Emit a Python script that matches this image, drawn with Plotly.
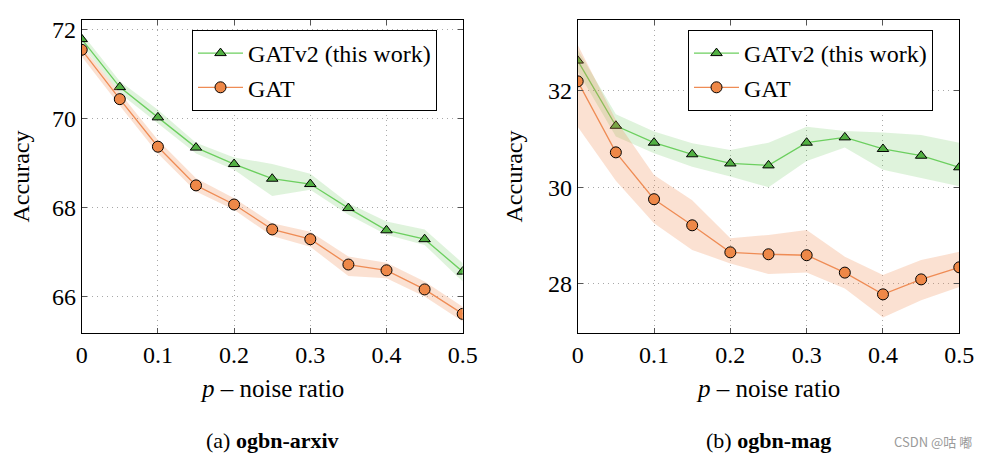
import plotly.graph_objects as go

# ---------------- data ----------------
noise = [0, 0.05, 0.1, 0.15, 0.2, 0.25, 0.3, 0.35, 0.4, 0.45, 0.5]
x_tick_vals = [0, 0.1, 0.2, 0.3, 0.4, 0.5]
x_tick_text = ["0", "0.1", "0.2", "0.3", "0.4", "0.5"]

# ogbn-arxiv
arxiv_gatv2 = [71.79, 70.71, 70.03, 69.35, 68.98, 68.65, 68.53, 67.99, 67.49, 67.29, 66.56]
arxiv_gatv2_hi = [71.92, 70.84, 70.20, 69.46, 69.13, 68.98, 68.76, 68.10, 67.69, 67.51, 66.75]
arxiv_gatv2_lo = [71.66, 70.57, 69.90, 69.22, 68.85, 68.26, 68.40, 67.84, 67.39, 67.16, 66.34]
arxiv_gat = [71.55, 70.44, 69.37, 68.50, 68.07, 67.51, 67.29, 66.72, 66.59, 66.16, 65.61]
arxiv_gat_hi = [71.64, 70.57, 69.52, 68.66, 68.21, 67.65, 67.46, 66.90, 66.76, 66.34, 65.77]
arxiv_gat_lo = [71.40, 70.29, 69.22, 68.36, 67.95, 67.36, 67.12, 66.46, 66.41, 66.00, 65.44]
arxiv_y_ticks = [66, 68, 70, 72]

# ogbn-mag
mag_gatv2 = [32.62, 31.27, 30.92, 30.68, 30.49, 30.45, 30.92, 31.03, 30.79, 30.65, 30.41]
mag_gatv2_hi = [32.85, 31.51, 31.15, 30.91, 30.77, 30.92, 31.25, 31.16, 31.13, 31.08, 30.92]
mag_gatv2_lo = [32.40, 31.05, 30.70, 30.42, 30.22, 30.00, 30.54, 30.82, 30.36, 30.19, 30.02]
mag_gat = [32.19, 30.72, 29.75, 29.21, 28.65, 28.61, 28.59, 28.23, 27.78, 28.09, 28.34]
mag_gat_hi = [32.95, 31.39, 30.25, 29.73, 28.94, 29.01, 29.11, 28.56, 28.18, 28.49, 28.66]
mag_gat_lo = [31.25, 30.13, 29.25, 28.70, 28.42, 28.20, 28.23, 27.90, 27.30, 27.66, 27.93]
mag_y_ticks = [28, 30, 32]

series_names = ["GATv2 (this work)", "GAT"]
y_title = "Accuracy"
x_title = "<i>p</i> – noise ratio"
captions = ["(a) <b>ogbn-arxiv</b>", "(b) <b>ogbn-mag</b>"]

# ---------------- style ----------------
FONT = "Liberation Serif"
GREEN_LINE = "#6ccf5f"
GREEN_MARK = "#52b043"
GREEN_BAND = "rgba(110,200,95,0.22)"
ORANGE_LINE = "#ef8c55"
ORANGE_MARK = "#ee8848"
ORANGE_BAND = "rgba(238,136,76,0.25)"

fig = go.Figure()


def add_panel(xa, ya, legend, g, g_hi, g_lo, o, o_hi, o_lo):
    fig.add_trace(go.Scatter(x=noise + noise[::-1], y=g_hi + g_lo[::-1], fill="toself",
                             fillcolor=GREEN_BAND, line=dict(width=0), mode="lines",
                             showlegend=False, hoverinfo="skip", xaxis=xa, yaxis=ya))
    fig.add_trace(go.Scatter(x=noise, y=g, mode="lines+markers", name=series_names[0],
                             line=dict(color=GREEN_LINE, width=1.3),
                             marker=dict(symbol="triangle-up", size=10, color=GREEN_MARK,
                                         line=dict(color="black", width=1)),
                             xaxis=xa, yaxis=ya, legend=legend))
    fig.add_trace(go.Scatter(x=noise + noise[::-1], y=o_hi + o_lo[::-1], fill="toself",
                             fillcolor=ORANGE_BAND, line=dict(width=0), mode="lines",
                             showlegend=False, hoverinfo="skip", xaxis=xa, yaxis=ya))
    fig.add_trace(go.Scatter(x=noise, y=o, mode="lines+markers", name=series_names[1],
                             line=dict(color=ORANGE_LINE, width=1.3),
                             marker=dict(symbol="circle", size=11, color=ORANGE_MARK,
                                         line=dict(color="black", width=1)),
                             xaxis=xa, yaxis=ya, legend=legend))


add_panel("x", "y", "legend", arxiv_gatv2, arxiv_gatv2_hi, arxiv_gatv2_lo,
          arxiv_gat, arxiv_gat_hi, arxiv_gat_lo)
add_panel("x2", "y2", "legend2", mag_gatv2, mag_gatv2_hi, mag_gatv2_lo,
          mag_gat, mag_gat_hi, mag_gat_lo)

# The page body has an 8px default margin; compensate so the figure fills the window.
OFF = 8
W, H = 991 - OFF, 459 - OFF


def px(rx):
    return (rx - OFF) / W


def py(ry):
    return 1 - (ry - OFF) / H


y_dom = [py(333), py(20)]

axis_common = dict(showline=True, linecolor="black", linewidth=1, mirror="ticks",
                   ticks="inside", ticklen=5, tickcolor="#555", tickwidth=1,
                   showgrid=True, gridcolor="#a8a8a8", griddash="1px,4px", gridwidth=1,
                   zeroline=False, automargin=False,
                   tickfont=dict(family=FONT, size=24, color="black"))

legend_common = dict(xanchor="left", yanchor="top", bordercolor="black", borderwidth=1,
                     bgcolor="white", font=dict(family=FONT, size=24), tracegroupgap=0,
                     itemwidth=45)

fig.update_layout(
    width=W, height=H,
    margin=dict(l=0, r=0, t=0, b=0, pad=0),
    paper_bgcolor="white", plot_bgcolor="white",
    font=dict(family=FONT, size=24, color="black"),
    xaxis=dict(domain=[px(81.7), px(462.7)], range=[0, 0.5], tickvals=x_tick_vals,
               ticktext=x_tick_text, anchor="y", **axis_common),
    yaxis=dict(domain=y_dom, range=[65.18, 72.22], tickvals=arxiv_y_ticks, anchor="x",
               **axis_common),
    xaxis2=dict(domain=[px(577.7), px(959.3)], range=[0, 0.5], tickvals=x_tick_vals,
                ticktext=x_tick_text, anchor="y2", **axis_common),
    yaxis2=dict(domain=y_dom, range=[26.98, 33.46], tickvals=mag_y_ticks, anchor="x2",
                **axis_common),
    legend=dict(x=px(192), y=py(30), **legend_common),
    legend2=dict(x=px(688), y=py(30), **legend_common),
    showlegend=True,
)

ann = []
for xc in (21, 514):
    ann.append(dict(text=y_title, x=px(xc), y=py(176.5), xref="paper", yref="paper",
                    showarrow=False, textangle=-90, font=dict(family=FONT, size=24),
                    xanchor="center", yanchor="middle"))
for xc, cap in ((272, captions[0]), (768, captions[1])):
    ann.append(dict(text=x_title, x=px(xc), y=py(388), xref="paper", yref="paper",
                    showarrow=False, font=dict(family=FONT, size=25),
                    xanchor="center", yanchor="middle"))
    ann.append(dict(text=cap, x=px(xc), y=py(440), xref="paper", yref="paper",
                    showarrow=False, font=dict(family=FONT, size=22),
                    xanchor="center", yanchor="middle"))
ann.append(dict(text="CSDN @咕 嘟", x=px(974), y=py(441), xref="paper", yref="paper",
                showarrow=False, font=dict(family="Noto Sans CJK SC", size=13, color="#9a9a9a"),
                xanchor="right", yanchor="middle"))
fig.update_layout(annotations=ann)

fig.write_html("out.html")
